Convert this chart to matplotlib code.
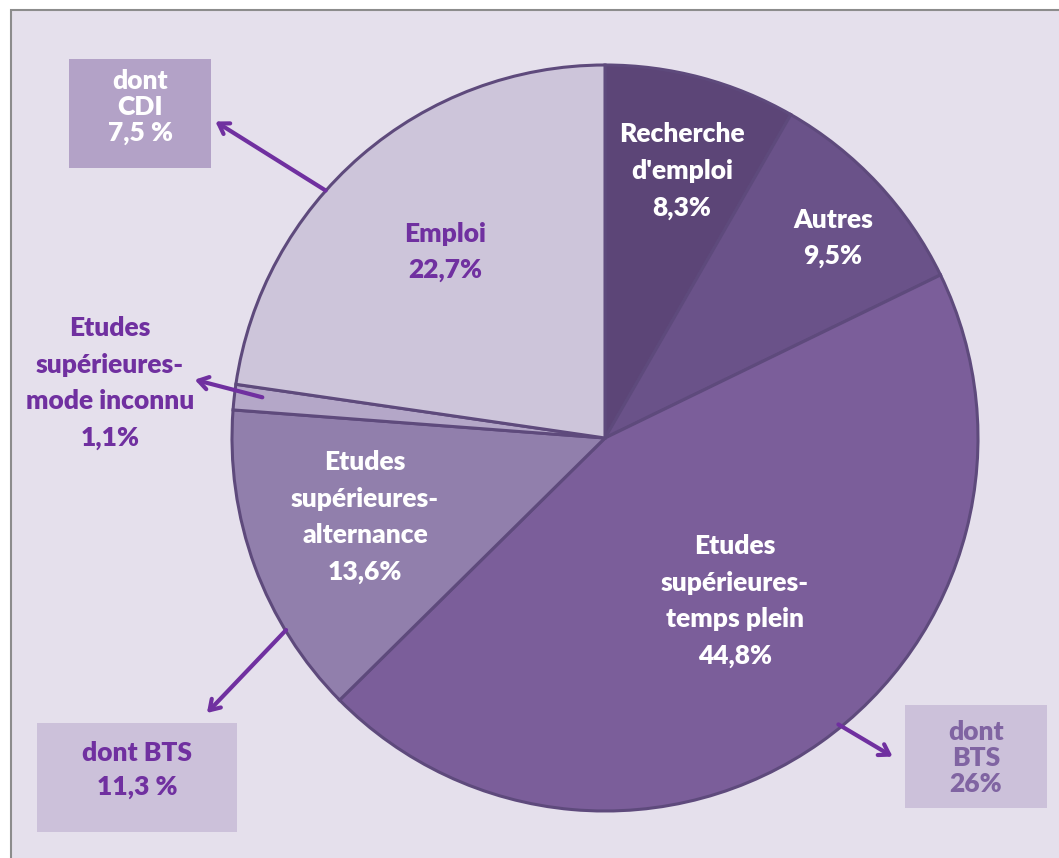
import matplotlib.pyplot as plt
from matplotlib.patches import Rectangle

# ---------------------------------------------------------------------------
# Data
# ---------------------------------------------------------------------------
categories = [
    "Recherche\nd'emploi",
    "Autres",
    "Etudes\nsupérieures-\ntemps plein",
    "Etudes\nsupérieures-\nalternance",
    "Etudes\nsupérieures-\nmode inconnu",
    "Emploi",
]
shares = [8.3, 9.5, 44.8, 13.6, 1.1, 22.7]
pct_labels = ["8,3%", "9,5%", "44,8%", "13,6%", "1,1%", "22,7%"]
colors = ["#5C4577", "#6A5289", "#7B5E9A", "#917FAC", "#B4A7C8", "#CDC5DA"]

# sub-boxes ("dont ...")
box_texts = ["dont\nCDI\n7,5 %", "dont BTS\n11,3 %", "dont\nBTS\n26%"]

W, H = 1059, 858
FONT = "Lato"
PURPLE = "#7030A0"


def Y(y):
    # pixel row -> axes y
    return H - y


fig = plt.figure(figsize=(W / 100, H / 100), dpi=100)
ax = fig.add_axes([0, 0, 1, 1])

# background frame
ax.add_patch(Rectangle((11, -20), W + 20, Y(10) + 20, facecolor="#E5E0EC",
                       edgecolor="#8C8C8C", linewidth=1.5, zorder=0))

# pie
ax.pie(shares, colors=colors, startangle=90, counterclock=False,
       center=(605, Y(438)), radius=373, frame=True,
       wedgeprops=dict(edgecolor="#5E4A7C", linewidth=2.2))
ax.set_xlim(0, W)
ax.set_ylim(0, H)
ax.set_aspect("equal")
ax.axis("off")

# slice labels
label_pos = [(682, 171), (833, 238), (735, 601), (365, 517), (110, 383), (445, 252)]
label_col = ["white", "white", "white", "white", PURPLE, PURPLE]
for cat, pct, (x, y), c in zip(categories, pct_labels, label_pos, label_col):
    ax.text(x, Y(y), f"{cat}\n{pct}", ha="center", va="center", color=c,
            fontsize=19, fontweight="heavy", family=FONT, linespacing=1.62)

# boxes
boxes = [
    # x0, y0, x1, y1, face, text colour, line spacing, text centre row
    (69, 59, 211, 168, "#B3A2C7", "white", 1.1, 107),
    (37, 723, 237, 832, "#CCC1DA", PURPLE, 1.45, 770),
    (905, 705, 1047, 808, "#CCC1DA", "#8064A2", 1.1, 758),
]
for (x0, y0, x1, y1, fc, tc, ls, ty), txt in zip(boxes, box_texts):
    ax.add_patch(Rectangle((x0, Y(y1)), x1 - x0, y1 - y0, facecolor=fc,
                           edgecolor="none", zorder=3))
    ax.text((x0 + x1) / 2, Y(ty), txt, ha="center", va="center",
            color=tc, fontsize=19, fontweight="heavy", family=FONT,
            linespacing=ls, zorder=4)

# arrows
arrows = [
    ((328, 192), (213, 120)),
    ((265, 398), (192, 379)),
    ((288, 628), (205, 715)),
    ((836, 723), (895, 758)),
]
for (xs, ys), (xe, ye) in arrows:
    ax.annotate("", xy=(xe, Y(ye)), xytext=(xs, Y(ys)),
                arrowprops=dict(arrowstyle="->,head_length=0.7,head_width=0.45",
                                color=PURPLE, lw=3), zorder=5)

fig.savefig("out.png", dpi=100)
